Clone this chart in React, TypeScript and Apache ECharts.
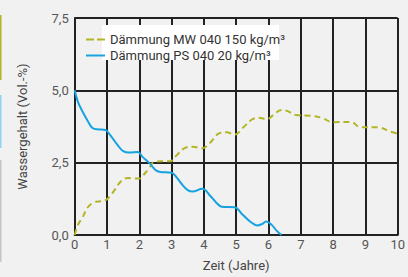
import React, { useEffect, useRef } from "react";
import * as echarts from "echarts";

const yTicks = ["0,0", "2,5", "5,0", "7,5"];
const seriesNames = ["Dämmung MW 040 150 kg/m³", "Dämmung PS 040 20 kg/m³"];

const mwData: [number, number][] = [
  [0, 0], [0.1, 0.35], [0.25, 0.62], [0.4, 0.95], [0.6, 1.13], [0.8, 1.17], [0.95, 1.2],
  [1.1, 1.35], [1.25, 1.58], [1.45, 1.88], [1.65, 1.97], [1.85, 1.95], [2.0, 1.95],
  [2.15, 2.1], [2.3, 2.3], [2.45, 2.52], [2.7, 2.55], [2.95, 2.55], [3.15, 2.75],
  [3.4, 3.0], [3.65, 3.05], [3.95, 3.0], [4.2, 3.2], [4.45, 3.5], [4.7, 3.55],
  [4.95, 3.47], [5.2, 3.7], [5.5, 4.0], [5.7, 4.05], [5.95, 4.0], [6.15, 4.15],
  [6.4, 4.32], [6.55, 4.3], [6.85, 4.15], [7.3, 4.12], [7.65, 4.05], [8.0, 3.9],
  [8.55, 3.91], [8.85, 3.72], [9.4, 3.72], [9.75, 3.58], [10, 3.5],
];

const psData: [number, number][] = [
  [0, 5.0], [0.1, 4.6], [0.25, 4.25], [0.4, 3.95], [0.55, 3.7], [0.75, 3.65], [0.95, 3.63],
  [1.1, 3.45], [1.3, 3.15], [1.5, 2.9], [1.7, 2.85], [1.95, 2.87], [2.1, 2.7], [2.3, 2.5],
  [2.5, 2.25], [2.65, 2.18], [3.0, 2.15], [3.15, 2.0], [3.3, 1.78], [3.5, 1.55],
  [3.65, 1.5], [3.95, 1.6], [4.2, 1.35], [4.4, 1.1], [4.55, 0.98], [4.95, 0.96],
  [5.2, 0.7], [5.45, 0.45], [5.65, 0.33], [5.8, 0.38], [5.93, 0.47], [6.1, 0.35],
  [6.25, 0.15], [6.4, 0.0],
];

const OLIVE = "#b4b526";
const BLUE = "#17a2e0";
const GRID = "#222222";
const FONT = "Roboto";

export default function App() {
  const ref = useRef<HTMLDivElement>(null);
  useEffect(() => {
    if (!ref.current) return;
    const chart = echarts.init(ref.current, null, { renderer: "svg" });
    chart.setOption({
      animation: false,
      backgroundColor: "#f1f1f1",
      textStyle: { fontFamily: FONT },
      grid: { left: 74.7, right: 4, top: 18, bottom: 38.7, containLabel: false },
      graphic: [
        { type: "rect", z: 3, shape: { x: 102, y: 25, width: 177, height: 35 }, style: { fill: "#ffffff" } },
        { type: "rect", shape: { x: 0, y: 15, width: 1.5, height: 65 }, style: { fill: "#b4b526" } },
        { type: "rect", shape: { x: 0, y: 95, width: 1.5, height: 53 }, style: { fill: "#8fd3f5" } },
        { type: "rect", shape: { x: 0, y: 160, width: 1.5, height: 102 }, style: { fill: "#c4c4c4" } },
      ],
      legend: {
        z: 4,
        left: 81,
        top: 28,
        orient: "vertical",
        itemWidth: 19,
        itemHeight: 12,
        itemGap: 3,
        textStyle: { fontFamily: FONT, fontSize: 13, color: "#333333" },
        data: [
          { name: seriesNames[0], icon: "path://M0,5 L8,5 L8,7 L0,7 Z M11,5 L19,5 L19,7 L11,7 Z", itemStyle: { color: OLIVE } },
          { name: seriesNames[1], icon: "path://M0,5 L19,5 L19,7 L0,7 Z", itemStyle: { color: BLUE } },
        ],
      },
      xAxis: {
        type: "value",
        min: 0,
        max: 10,
        interval: 1,
        name: "Zeit (Jahre)",
        nameLocation: "middle",
        nameGap: 24,
        nameTextStyle: { fontFamily: FONT, fontSize: 13, color: "#444444" },
        axisLine: { show: true, lineStyle: { color: GRID, width: 2 } },
        axisTick: { show: false },
        axisLabel: { fontFamily: FONT, fontSize: 13, color: "#555555", margin: 3 },
        splitLine: { show: true, lineStyle: { color: GRID, width: 2 } },
      },
      yAxis: {
        type: "value",
        min: 0,
        max: 7.5,
        interval: 2.5,
        name: "Wassergehalt (Vol.-%)",
        nameLocation: "middle",
        nameGap: 46,
        nameTextStyle: { fontFamily: FONT, fontSize: 13, color: "#444444" },
        axisLine: { show: true, lineStyle: { color: GRID, width: 2 } },
        axisTick: { show: false },
        axisLabel: {
          fontFamily: FONT,
          fontSize: 13,
          color: "#555555",
          margin: 6,
          formatter: (v: number) => yTicks[Math.round(v / 2.5)] ?? "",
        },
        splitLine: { show: true, lineStyle: { color: GRID, width: 2 } },
      },
      series: [
        {
          name: seriesNames[0],
          type: "line",
          data: mwData,
          smooth: 0.4,
          showSymbol: false,
          z: 3,
          lineStyle: { color: OLIVE, width: 2, type: [6, 4] },
          itemStyle: { color: OLIVE },
        },
        {
          name: seriesNames[1],
          type: "line",
          data: psData,
          smooth: 0.4,
          showSymbol: false,
          z: 3,
          lineStyle: { color: BLUE, width: 2 },
          itemStyle: { color: BLUE },
        },
      ],
    });
    return () => chart.dispose();
  }, []);
  return (
    <div
      ref={ref}
      style={{ position: "fixed", left: 0, top: 0, width: 408, height: 277 }}
    />
  );
}
